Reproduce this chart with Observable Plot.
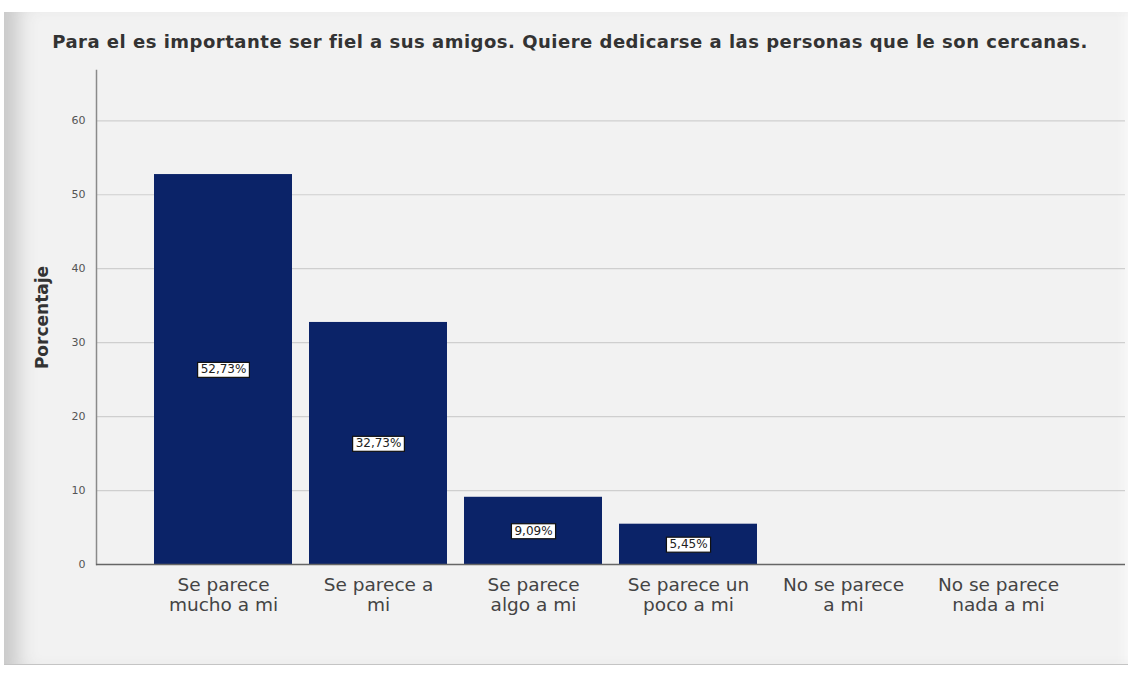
<!DOCTYPE html>
<html>
<head>
<meta charset="utf-8">
<script src="https://cdn.jsdelivr.net/npm/d3@7"></script>
<script src="https://cdn.jsdelivr.net/npm/@observablehq/plot@0.6"></script>
<style>
  body { margin: 0; background: #fff; }
  #frame { position: relative; width: 1134px; height: 676px; overflow: hidden; background: #fff; }
  #panel {
    position: absolute; left: 4px; top: 12px; width: 1124px; height: 652px;
    background: #f2f2f2;
    box-shadow: inset 26px 0 20px -12px #c9c9c9, inset -10px 0 12px -8px #fafafa, 0 1px 0 #c4c4c4;
  }
  #title {
    position: absolute; left: 0; top: 31px; width: 1140px; text-align: center;
    font: bold 18px "DejaVu Sans", sans-serif; letter-spacing: 0.5px; color: #333; white-space: nowrap;
  }
  #chart { position: absolute; left: 0; top: 0; }
  #chart svg { background: transparent; }
</style>
</head>
<body>
<div id="frame">
  <div id="panel"></div>
  <div id="title">Para el es importante ser fiel a sus amigos. Quiere dedicarse a las personas que le son cercanas.</div>
  <div id="chart"></div>
</div>
<script>
// Response categories (x axis) and their two-line tick labels
const categories = [
  "Se parece mucho a mi",
  "Se parece a mi",
  "Se parece algo a mi",
  "Se parece un poco a mi",
  "No se parece a mi",
  "No se parece nada a mi"
];
const tickLabels = [
  "Se parece\nmucho a mi",
  "Se parece a\nmi",
  "Se parece\nalgo a mi",
  "Se parece un\npoco a mi",
  "No se parece\na mi",
  "No se parece\nnada a mi"
];
// Percentage of respondents per category
const percentages = [52.73, 32.73, 9.09, 5.45, 0, 0];
const yTicks = [0, 10, 20, 30, 40, 50, 60];

const rows = categories.map((c, i) => ({category: c, value: percentages[i]}));
const labeled = rows.filter(d => d.value > 0);
const fmtPct = v => v.toFixed(2).replace(".", ",") + "%";

const chart = Plot.plot({
  width: 1134,
  height: 676,
  marginTop: 70,
  marginBottom: 112,
  marginLeft: 96,
  marginRight: 9,
  style: {background: "transparent", fontFamily: "DejaVu Sans, sans-serif"},
  x: {domain: categories, paddingInner: 0.107, paddingOuter: 0.37, label: null},
  y: {domain: [0, 66.8], ticks: yTicks, label: null},
  marks: [
    Plot.gridY(yTicks.filter(t => t > 0), {stroke: "#cfcfcf", strokeOpacity: 1, strokeWidth: 1.2}),
    Plot.barY(rows, {x: "category", y: "value", fill: "#0b2368"}),
    Plot.axisY(yTicks, {tickSize: 0, tickPadding: 11, fontSize: 11, fill: "#555", label: null}),
    Plot.axisX({
      tickSize: 0, tickPadding: 12, fontSize: 18.5, lineHeight: 1.1, fill: "#444",
      tickFormat: d => tickLabels[categories.indexOf(d)], label: null
    }),
    Plot.frame({anchor: "left", stroke: "#8a8a8a", strokeWidth: 1.5}),
    Plot.ruleY([0], {stroke: "#666", strokeWidth: 1.5}),
    Plot.text(["Porcentaje"], {
      frameAnchor: "left", textAnchor: "middle", rotate: -90, dx: -54,
      fontWeight: "bold", fontSize: 17, fill: "#333"
    }),
    Plot.text(labeled, {
      x: "category", y: d => d.value / 2, text: d => fmtPct(d.value),
      fontSize: 12, fill: "#222", className: "value-label"
    })
  ]
});

document.getElementById("chart").appendChild(chart);

// White boxes with a thin black border behind each value label
d3.select(chart).selectAll(".value-label text").each(function() {
  const b = this.getBBox();
  const box = d3.select(this.parentNode).insert("rect", () => this)
    .attr("x", b.x - 3).attr("y", b.y)
    .attr("width", b.width + 6).attr("height", b.height + 1)
    .attr("fill", "#fff").attr("stroke", "#111").attr("stroke-width", 1.2);
  const t = this.getAttribute("transform");
  if (t) box.attr("transform", t);
});
</script>
</body>
</html>
